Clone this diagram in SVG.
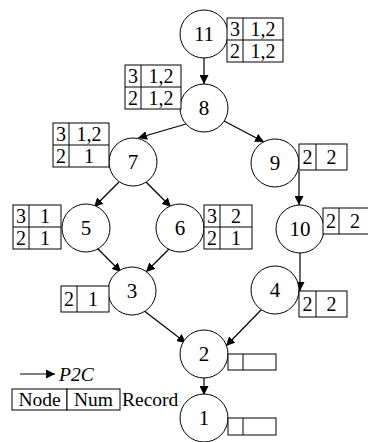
<svg xmlns="http://www.w3.org/2000/svg" width="368" height="442" viewBox="0 0 368 442" font-family="'Liberation Serif', 'Times New Roman', 'DejaVu Serif', serif">
<style>
circle{fill:#fff;stroke:#000;stroke-width:1}
rect{fill:#fff;stroke:#000;stroke-width:1}
.d{stroke:#000;stroke-width:1}
text{font-family:'Liberation Serif','Times New Roman','DejaVu Serif',serif;font-size:21px;fill:#000;text-anchor:middle}
text.t{font-size:20px}
text.s{font-size:19.5px;text-anchor:start}
.c line{stroke:#000;stroke-width:1.2;marker-end:url(#ah)}
</style>
<defs>
<marker id="ah" viewBox="0 0 10 10" refX="10" refY="5" markerWidth="9" markerHeight="9" markerUnits="userSpaceOnUse" orient="auto">
<path d="M0,0 L10,5 L0,10 z" fill="#000"/>
</marker>
</defs>
<rect x="0" y="0" width="368" height="442" style="fill:#fff;stroke:none"/>
<g id="connectors" class="c">
<line x1="204" y1="58" x2="204" y2="84"/>
<line x1="186" y1="124" x2="138" y2="138"/>
<line x1="224" y1="121" x2="264" y2="142"/>
<line x1="119" y1="182" x2="94" y2="207"/>
<line x1="146" y1="182" x2="171" y2="207"/>
<line x1="299" y1="171" x2="299" y2="205"/>
<line x1="97" y1="248" x2="121" y2="272"/>
<line x1="170" y1="248" x2="146" y2="272"/>
<line x1="300" y1="252" x2="300" y2="291"/>
<line x1="143" y1="310" x2="186" y2="343"/>
<line x1="262" y1="309" x2="226" y2="346"/>
<line x1="204" y1="377" x2="204" y2="395"/>
</g>
<g id="n11"><circle cx="204" cy="34" r="24"/><text x="204" y="41">11</text>
<rect x="227" y="18" width="56" height="44"/><line class="d" x1="227" y1="40" x2="283" y2="40"/><line class="d" x1="243" y1="18" x2="243" y2="62"/>
<text class="t" x="235" y="36">3</text><text class="t" x="263" y="36">1,2</text><text class="t" x="235" y="58">2</text><text class="t" x="263" y="58">1,2</text></g>
<g id="n8"><circle cx="204" cy="108" r="24"/><text x="204" y="115">8</text>
<rect x="125" y="65" width="56" height="44"/><line class="d" x1="125" y1="87" x2="181" y2="87"/><line class="d" x1="141" y1="65" x2="141" y2="109"/>
<text class="t" x="133" y="83">3</text><text class="t" x="161" y="83">1,2</text><text class="t" x="133" y="105">2</text><text class="t" x="161" y="105">1,2</text></g>
<g id="n7"><circle cx="133" cy="162" r="24"/><text x="133" y="169">7</text>
<rect x="53" y="123" width="56" height="44"/><line class="d" x1="53" y1="145" x2="109" y2="145"/><line class="d" x1="69" y1="123" x2="69" y2="167"/>
<text class="t" x="61" y="141">3</text><text class="t" x="89" y="141">1,2</text><text class="t" x="61" y="163">2</text><text class="t" x="89" y="163">1</text></g>
<g id="n9"><circle cx="275" cy="163" r="24"/><text x="275" y="170">9</text>
<rect x="299" y="144" width="48" height="26"/><line class="d" x1="316" y1="144" x2="316" y2="170"/>
<text class="t" x="307.5" y="164">2</text><text class="t" x="331.5" y="164">2</text></g>
<g id="n5"><circle cx="86" cy="228" r="24"/><text x="86" y="235">5</text>
<rect x="13" y="205" width="48" height="44"/><line class="d" x1="13" y1="227" x2="61" y2="227"/><line class="d" x1="29" y1="205" x2="29" y2="249"/>
<text class="t" x="21" y="223">3</text><text class="t" x="45" y="223">1</text><text class="t" x="21" y="245">2</text><text class="t" x="45" y="245">1</text></g>
<g id="n6"><circle cx="180" cy="228" r="24"/><text x="180" y="235">6</text>
<rect x="204" y="205" width="48" height="44"/><line class="d" x1="204" y1="227" x2="252" y2="227"/><line class="d" x1="220" y1="205" x2="220" y2="249"/>
<text class="t" x="212" y="223">3</text><text class="t" x="236" y="223">2</text><text class="t" x="212" y="245">2</text><text class="t" x="236" y="245">1</text></g>
<g id="n10"><circle cx="300" cy="229" r="24"/><text x="300" y="236">10</text>
<rect x="323" y="208" width="48" height="26"/><line class="d" x1="339" y1="208" x2="339" y2="234"/>
<text class="t" x="331" y="228">2</text><text class="t" x="355" y="228">2</text></g>
<g id="n3"><circle cx="132" cy="291" r="24"/><text x="132" y="298">3</text>
<rect x="61" y="286" width="48" height="26"/><line class="d" x1="77" y1="286" x2="77" y2="312"/>
<text class="t" x="69" y="306">2</text><text class="t" x="93" y="306">1</text></g>
<g id="n4"><circle cx="275" cy="290" r="24"/><text x="275" y="297">4</text>
<rect x="299" y="291" width="48" height="26"/><line class="d" x1="316" y1="291" x2="316" y2="317"/>
<text class="t" x="307.5" y="311">2</text><text class="t" x="331.5" y="311">2</text></g>
<g id="n2"><circle cx="204" cy="354" r="24"/><text x="204" y="361">2</text>
<rect x="228" y="354" width="48" height="16"/><line class="d" x1="243" y1="354" x2="243" y2="370"/></g>
<g id="n1"><circle cx="204" cy="418" r="24"/><text x="204" y="425">1</text>
<rect x="228" y="418" width="48" height="17"/><line class="d" x1="243" y1="418" x2="243" y2="435"/></g>
<g id="legend">
<line class="d" x1="20" y1="374" x2="55" y2="374" style="marker-end:url(#ah)"/>
<text class="s" x="59" y="381" style="font-style:italic">P2C</text>
<rect x="12" y="389" width="55" height="21"/><rect x="67" y="389" width="53" height="21"/>
<text class="s" x="39.5" y="406" style="text-anchor:middle">Node</text><text class="s" x="93.5" y="406" style="text-anchor:middle">Num</text>
<text class="s" x="122" y="406">Record</text>
</g>
</svg>
